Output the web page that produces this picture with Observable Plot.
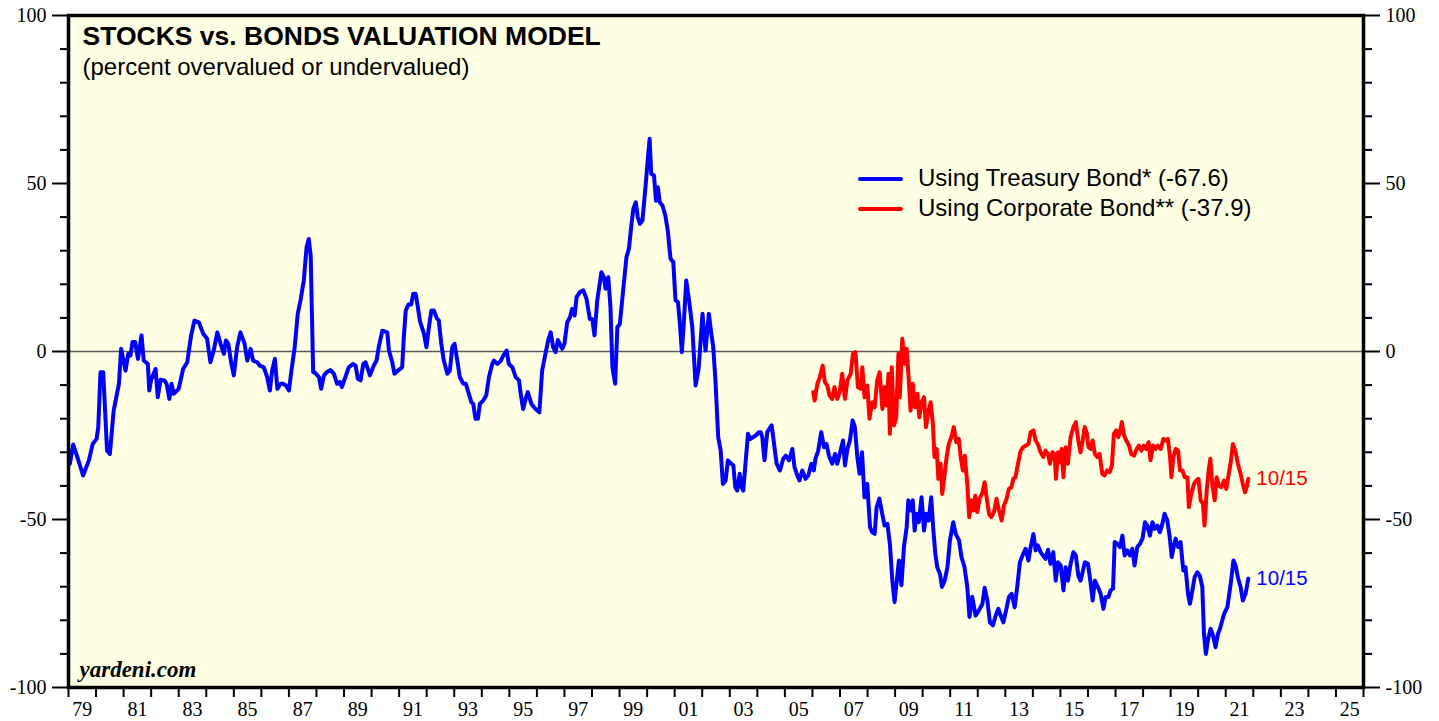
<!DOCTYPE html>
<html>
<head>
<meta charset="utf-8">
<script src="https://cdn.jsdelivr.net/npm/d3@7"></script>
<script src="https://cdn.jsdelivr.net/npm/@observablehq/plot@0.6"></script>
<style>
  html, body { margin: 0; padding: 0; background: #ffffff; }
  #wrap { position: relative; width: 1439px; height: 721px; overflow: hidden; }
  #legend { position: absolute; left: 858px; top: 163px; font-family: "Liberation Sans", Arial, sans-serif; font-size: 24px; color: #000; }
  .row { display: flex; align-items: center; height: 30px; line-height: 30px; white-space: nowrap; }
  .sw { width: 45px; height: 4px; margin-right: 15px; border-radius: 2px; position: relative; top: 1px; }
</style>
</head>
<body>
<div id="wrap"><div id="legend"></div></div>
<script>
// ---------- DATA ----------
const chartTitle = "STOCKS vs. BONDS VALUATION MODEL";
const chartSubtitle = "(percent overvalued or undervalued)";
const sourceNote = "yardeni.com";
const seriesNames = ["Using Treasury Bond* (-67.6)", "Using Corporate Bond** (-37.9)"];
const endLabel = "10/15";
const yMajorTicks = [-100, -50, 0, 50, 100];
const yMinorTicks = [-90, -80, -70, -60, -40, -30, -20, -10, 10, 20, 30, 40, 60, 70, 80, 90];
const yearTicks = d3.range(1979, 2027);            // one tick per year 1979..2026
const labelYears = d3.range(1979, 2026, 2);         // 79, 81, ... 25

// [decimal year, percent]
const treasury = [
[1979.05,-33.4],[1979.17,-27.7],[1979.32,-31.4],[1979.53,-36.9],[1979.74,-32.4],[1979.88,-27.5],
[1980.02,-26.0],[1980.08,-22.5],[1980.16,-6.2],[1980.26,-6.2],[1980.40,-29.5],[1980.50,-30.5],
[1980.64,-17.6],[1980.83,-9.6],[1980.91,0.8],[1981.07,-5.7],[1981.17,-0.7],[1981.25,-1.2],
[1981.32,2.8],[1981.42,2.8],[1981.52,-2.2],[1981.65,4.8],[1981.73,-2.7],[1981.88,-3.7],
[1981.93,-11.6],[1982.00,-8.4],[1982.16,-5.2],[1982.24,-13.6],[1982.34,-8.4],[1982.48,-8.6],
[1982.56,-9.6],[1982.66,-14.1],[1982.74,-9.6],[1982.82,-12.6],[1983.00,-11.1],[1983.16,-5.2],
[1983.31,-3.2],[1983.45,4.8],[1983.57,9.2],[1983.73,8.7],[1983.89,5.3],[1984.03,3.8],
[1984.15,-3.2],[1984.27,0.3],[1984.40,5.7],[1984.52,2.3],[1984.64,-0.7],[1984.71,3.3],
[1984.80,2.3],[1984.91,-3.7],[1985.00,-7.1],[1985.12,1.3],[1985.24,5.7],[1985.39,2.3],
[1985.49,-2.7],[1985.61,0.8],[1985.70,-2.7],[1985.85,-3.2],[1985.94,-4.2],[1986.09,-4.7],
[1986.21,-7.6],[1986.31,-11.6],[1986.39,-5.7],[1986.49,-2.2],[1986.58,-11.1],[1986.70,-9.6],
[1986.79,-9.6],[1986.88,-10.1],[1987.00,-11.6],[1987.09,-5.7],[1987.21,1.3],[1987.32,11.2],
[1987.42,15.2],[1987.54,21.1],[1987.64,31.0],[1987.72,33.5],[1987.79,28.5],[1987.88,-6.2],
[1987.93,-6.2],[1988.09,-7.6],[1988.17,-11.1],[1988.27,-7.1],[1988.37,-6.2],[1988.51,-5.5],
[1988.63,-6.6],[1988.75,-9.6],[1988.85,-9.1],[1988.92,-10.6],[1989.05,-7.6],[1989.17,-4.7],
[1989.33,-3.7],[1989.42,-4.2],[1989.50,-8.1],[1989.60,-8.6],[1989.70,-3.7],[1989.78,-3.2],
[1989.94,-7.1],[1990.08,-4.2],[1990.18,-2.7],[1990.26,1.3],[1990.39,6.2],[1990.57,5.7],
[1990.63,0.3],[1990.75,-3.2],[1990.83,-6.6],[1990.95,-5.7],[1991.11,-4.7],[1991.17,4.3],
[1991.24,12.2],[1991.34,14.0],[1991.44,14.0],[1991.51,17.2],[1991.60,17.2],[1991.68,13.2],
[1991.75,9.2],[1991.90,5.3],[1991.99,1.3],[1992.08,7.2],[1992.17,12.2],[1992.26,12.2],
[1992.36,10.0],[1992.44,9.2],[1992.53,2.3],[1992.62,-2.7],[1992.75,-6.6],[1992.84,-5.7],
[1992.93,1.3],[1993.01,2.3],[1993.11,-2.7],[1993.20,-7.6],[1993.33,-9.6],[1993.42,-9.6],
[1993.53,-12.6],[1993.62,-15.1],[1993.69,-15.6],[1993.77,-20.0],[1993.86,-20.0],[1993.93,-15.6],
[1994.05,-14.6],[1994.16,-13.1],[1994.26,-7.6],[1994.38,-3.7],[1994.44,-2.7],[1994.56,-3.7],
[1994.68,-2.9],[1994.78,-1.2],[1994.90,0.3],[1994.98,-3.7],[1995.11,-4.7],[1995.23,-7.6],
[1995.35,-8.6],[1995.43,-13.6],[1995.50,-17.1],[1995.59,-14.1],[1995.67,-12.1],[1995.80,-15.6],
[1995.95,-17.1],[1996.09,-18.1],[1996.19,-5.7],[1996.31,-0.7],[1996.41,3.3],[1996.50,5.7],
[1996.59,1.3],[1996.68,-0.2],[1996.76,3.4],[1996.92,0.8],[1997.00,2.3],[1997.10,8.7],
[1997.20,10.2],[1997.28,12.7],[1997.37,10.7],[1997.44,16.2],[1997.56,17.7],[1997.68,18.2],
[1997.80,15.7],[1997.92,9.7],[1998.01,9.7],[1998.09,4.8],[1998.19,15.2],[1998.34,23.6],
[1998.43,22.1],[1998.49,18.7],[1998.59,22.1],[1998.67,13.2],[1998.74,-4.7],[1998.84,-9.6],
[1998.92,7.2],[1999.01,8.2],[1999.13,18.2],[1999.25,28.1],[1999.34,30.6],[1999.42,37.0],
[1999.50,42.5],[1999.59,44.4],[1999.66,40.0],[1999.74,38.0],[1999.83,39.0],[1999.94,48.9],
[2000.03,57.8],[2000.09,63.3],[2000.15,52.9],[2000.25,52.4],[2000.32,44.9],[2000.39,48.9],
[2000.46,44.4],[2000.56,43.4],[2000.66,40.5],[2000.75,36.0],[2000.85,27.6],[2000.95,26.6],
[2001.03,15.2],[2001.12,14.7],[2001.19,8.2],[2001.26,-0.2],[2001.33,8.2],[2001.42,21.1],
[2001.53,14.7],[2001.64,7.2],[2001.76,-10.1],[2001.87,-5.2],[2002.01,11.2],[2002.12,0.3],
[2002.24,11.2],[2002.33,5.3],[2002.40,1.3],[2002.48,-8.6],[2002.58,-25.5],[2002.67,-29.5],
[2002.75,-39.4],[2002.85,-38.4],[2002.93,-32.4],[2003.05,-33.4],[2003.13,-33.9],[2003.20,-40.4],
[2003.27,-41.4],[2003.36,-36.4],[2003.43,-40.4],[2003.49,-41.4],[2003.56,-34.4],[2003.66,-24.5],
[2003.75,-26.0],[2003.94,-25.0],[2004.06,-24.0],[2004.12,-24.0],[2004.18,-25.5],[2004.26,-32.4],
[2004.36,-24.0],[2004.52,-22.0],[2004.60,-27.0],[2004.70,-33.4],[2004.82,-35.4],[2004.94,-31.9],
[2005.03,-31.0],[2005.15,-32.4],[2005.27,-29.0],[2005.35,-34.4],[2005.45,-36.9],[2005.53,-38.4],
[2005.63,-35.4],[2005.75,-37.9],[2005.85,-36.9],[2005.96,-33.4],[2006.05,-35.4],[2006.11,-31.9],
[2006.21,-29.5],[2006.32,-24.0],[2006.42,-28.5],[2006.51,-27.5],[2006.60,-31.0],[2006.72,-33.4],
[2006.82,-30.5],[2006.90,-33.4],[2007.02,-29.5],[2007.11,-26.5],[2007.18,-33.9],[2007.27,-29.0],
[2007.36,-26.5],[2007.46,-20.5],[2007.54,-22.5],[2007.63,-31.4],[2007.71,-36.4],[2007.80,-30.0],
[2007.89,-43.4],[2007.99,-39.4],[2008.09,-52.3],[2008.17,-53.8],[2008.26,-54.3],[2008.33,-46.3],
[2008.43,-43.8],[2008.52,-47.8],[2008.62,-51.8],[2008.72,-51.3],[2008.81,-57.2],[2008.90,-68.2],
[2008.98,-74.6],[2009.05,-69.1],[2009.14,-62.2],[2009.23,-69.6],[2009.32,-58.2],[2009.42,-52.3],
[2009.48,-44.3],[2009.56,-47.3],[2009.64,-44.3],[2009.71,-53.3],[2009.78,-48.3],[2009.86,-50.8],
[2009.96,-43.4],[2010.05,-53.3],[2010.13,-48.3],[2010.22,-50.3],[2010.31,-43.4],[2010.39,-53.3],
[2010.46,-60.2],[2010.53,-64.2],[2010.63,-66.2],[2010.70,-70.1],[2010.80,-68.2],[2010.90,-64.2],
[2010.99,-56.2],[2011.11,-50.8],[2011.20,-54.3],[2011.32,-56.2],[2011.41,-61.2],[2011.52,-64.2],
[2011.62,-70.1],[2011.70,-79.0],[2011.80,-73.0],[2011.92,-78.6],[2012.04,-77.1],[2012.17,-75.1],
[2012.25,-70.3],[2012.35,-74.1],[2012.44,-80.6],[2012.55,-81.5],[2012.65,-78.6],[2012.75,-76.6],
[2012.83,-78.6],[2012.93,-80.6],[2013.04,-76.6],[2013.13,-73.1],[2013.23,-72.1],[2013.34,-76.1],
[2013.44,-69.6],[2013.53,-62.7],[2013.65,-60.2],[2013.74,-58.7],[2013.84,-62.2],[2013.92,-58.2],
[2014.02,-54.3],[2014.10,-59.2],[2014.18,-57.7],[2014.28,-59.7],[2014.37,-60.7],[2014.46,-61.7],
[2014.55,-59.0],[2014.64,-63.2],[2014.74,-59.7],[2014.83,-68.2],[2014.91,-62.7],[2015.01,-63.7],
[2015.11,-71.1],[2015.19,-64.2],[2015.27,-68.2],[2015.37,-63.2],[2015.47,-59.7],[2015.56,-60.7],
[2015.65,-66.7],[2015.73,-68.2],[2015.82,-65.2],[2015.89,-62.7],[2016.00,-63.2],[2016.10,-69.1],
[2016.17,-74.1],[2016.25,-68.2],[2016.36,-70.1],[2016.46,-72.1],[2016.56,-76.6],[2016.64,-73.1],
[2016.74,-73.1],[2016.82,-71.1],[2016.91,-70.6],[2016.97,-56.7],[2017.07,-57.2],[2017.16,-58.2],
[2017.25,-54.8],[2017.33,-60.7],[2017.43,-59.2],[2017.52,-60.7],[2017.61,-58.7],[2017.69,-63.7],
[2017.79,-58.2],[2017.89,-57.2],[2017.98,-55.7],[2018.07,-50.8],[2018.15,-51.8],[2018.25,-54.8],
[2018.34,-50.8],[2018.42,-52.8],[2018.52,-51.8],[2018.61,-53.8],[2018.70,-51.3],[2018.78,-48.3],
[2018.88,-50.3],[2018.96,-54.8],[2019.04,-61.2],[2019.12,-57.7],[2019.18,-55.7],[2019.27,-58.2],
[2019.36,-56.7],[2019.46,-65.2],[2019.54,-64.2],[2019.63,-72.1],[2019.70,-75.1],[2019.79,-71.1],
[2019.87,-67.2],[2019.97,-65.7],[2020.06,-66.7],[2020.15,-70.1],[2020.21,-84.0],[2020.28,-90.0],
[2020.35,-86.0],[2020.45,-82.5],[2020.54,-84.5],[2020.63,-88.0],[2020.72,-84.0],[2020.79,-82.5],
[2020.94,-78.1],[2021.06,-76.1],[2021.18,-69.1],[2021.28,-62.2],[2021.36,-63.7],[2021.44,-67.2],
[2021.54,-70.1],[2021.62,-74.1],[2021.72,-72.1],[2021.82,-67.6]
];

const corporate = [
[2006.03,-12.1],[2006.08,-14.6],[2006.18,-9.6],[2006.27,-7.6],[2006.37,-4.2],[2006.45,-9.1],
[2006.54,-10.1],[2006.62,-13.1],[2006.72,-14.1],[2006.80,-10.6],[2006.90,-14.1],[2006.99,-12.1],
[2007.08,-6.6],[2007.18,-14.1],[2007.27,-8.6],[2007.39,-6.6],[2007.47,-0.7],[2007.56,-0.2],
[2007.65,-10.6],[2007.75,-11.1],[2007.81,-4.7],[2007.89,-13.6],[2007.99,-10.1],[2008.07,-20.0],
[2008.17,-15.1],[2008.26,-16.6],[2008.35,-8.6],[2008.44,-6.2],[2008.54,-17.1],[2008.62,-10.6],
[2008.69,-16.1],[2008.76,-6.6],[2008.81,-24.5],[2008.88,-4.7],[2008.96,-22.0],[2009.04,-19.6],
[2009.12,-0.7],[2009.17,-13.6],[2009.26,3.8],[2009.35,-3.7],[2009.42,0.8],[2009.49,-7.6],
[2009.56,-17.6],[2009.64,-9.6],[2009.72,-16.6],[2009.81,-12.6],[2009.88,-19.6],[2009.96,-15.1],
[2010.05,-13.6],[2010.12,-22.5],[2010.21,-17.6],[2010.29,-15.1],[2010.37,-21.5],[2010.43,-31.4],
[2010.51,-29.0],[2010.57,-37.9],[2010.65,-33.4],[2010.71,-42.4],[2010.80,-36.4],[2010.87,-31.4],
[2010.95,-27.5],[2011.04,-25.5],[2011.13,-22.5],[2011.22,-27.0],[2011.31,-26.0],[2011.38,-31.4],
[2011.46,-35.4],[2011.53,-31.0],[2011.62,-39.4],[2011.69,-49.3],[2011.77,-44.3],[2011.84,-47.3],
[2011.91,-42.9],[2011.98,-47.8],[2012.07,-43.8],[2012.17,-41.9],[2012.25,-38.9],[2012.32,-43.4],
[2012.41,-48.3],[2012.49,-49.3],[2012.59,-47.8],[2012.68,-43.8],[2012.77,-47.3],[2012.87,-50.3],
[2012.95,-45.8],[2013.05,-43.8],[2013.13,-40.9],[2013.22,-40.4],[2013.29,-37.9],[2013.37,-37.4],
[2013.46,-33.4],[2013.56,-29.5],[2013.65,-28.5],[2013.75,-28.0],[2013.84,-27.5],[2013.92,-24.0],
[2014.02,-23.5],[2014.10,-26.5],[2014.18,-27.5],[2014.28,-30.0],[2014.38,-31.4],[2014.46,-29.5],
[2014.55,-30.5],[2014.62,-33.4],[2014.71,-30.0],[2014.79,-30.5],[2014.84,-37.9],[2014.91,-30.0],
[2014.98,-33.0],[2015.04,-29.0],[2015.11,-37.4],[2015.19,-28.5],[2015.27,-33.4],[2015.37,-25.5],
[2015.47,-22.5],[2015.56,-21.0],[2015.65,-26.5],[2015.73,-30.0],[2015.81,-26.5],[2015.88,-22.5],
[2015.95,-24.0],[2016.02,-28.5],[2016.10,-29.0],[2016.17,-26.5],[2016.25,-30.5],[2016.34,-31.4],
[2016.42,-30.5],[2016.52,-36.4],[2016.60,-36.9],[2016.70,-35.4],[2016.79,-35.9],[2016.87,-33.9],
[2016.94,-24.5],[2017.03,-23.5],[2017.10,-25.5],[2017.16,-24.0],[2017.23,-21.0],[2017.31,-25.0],
[2017.39,-26.5],[2017.49,-28.0],[2017.57,-30.5],[2017.67,-31.0],[2017.77,-29.0],[2017.85,-28.0],
[2017.94,-29.5],[2018.03,-28.0],[2018.12,-29.0],[2018.20,-27.0],[2018.27,-32.4],[2018.36,-28.0],
[2018.46,-29.0],[2018.54,-28.0],[2018.64,-29.0],[2018.74,-26.0],[2018.82,-26.5],[2018.90,-26.0],
[2018.98,-31.4],[2019.03,-37.4],[2019.10,-31.4],[2019.18,-29.0],[2019.27,-29.5],[2019.34,-35.4],
[2019.43,-35.4],[2019.51,-37.4],[2019.61,-37.4],[2019.66,-46.3],[2019.75,-42.4],[2019.85,-39.4],
[2019.93,-38.4],[2020.01,-37.9],[2020.09,-44.3],[2020.17,-45.3],[2020.23,-51.8],[2020.31,-41.4],
[2020.38,-35.4],[2020.44,-31.9],[2020.51,-39.4],[2020.60,-44.3],[2020.67,-37.4],[2020.75,-39.9],
[2020.84,-40.4],[2020.94,-38.4],[2021.02,-40.9],[2021.09,-37.4],[2021.18,-33.0],[2021.26,-27.5],
[2021.36,-30.0],[2021.44,-33.4],[2021.54,-36.4],[2021.62,-39.4],[2021.70,-41.9],[2021.76,-40.4],
[2021.82,-37.9]
];

// ---------- STYLE ----------
const BLUE = "#0000ff", RED = "#ff0000", BG = "#ffffe4";
const serif = "'Liberation Serif', 'Times New Roman', serif";
const sans = "'Liberation Sans', Arial, sans-serif";
const yy = d => String(d % 100).padStart(2, "0");

const chart = Plot.plot({
  width: 1439,
  height: 721,
  marginLeft: 68,
  marginRight: 76,
  marginTop: 15,
  marginBottom: 34,
  style: {fontFamily: serif, fontSize: "20px", color: "#000", background: "#ffffff"},
  x: {domain: [1979, 2026], axis: null},
  y: {domain: [-100, 100], axis: null},
  marks: [
    Plot.frame({fill: BG, stroke: null}),
    Plot.ruleY([0], {stroke: "#5a5a5a", strokeWidth: 1.5}),
    // y axes left and right
    Plot.axisY({anchor: "left", ticks: yMajorTicks, tickSize: 16, tickPadding: 6, strokeWidth: 2, fontSize: 20, fontFamily: serif, tickFormat: d => String(d)}),
    Plot.axisY({anchor: "left", ticks: yMinorTicks, tickSize: 8, strokeWidth: 2, tickFormat: () => ""}),
    Plot.axisY({anchor: "right", ticks: yMajorTicks, tickSize: 16, tickPadding: 6, strokeWidth: 2, fontSize: 20, fontFamily: serif, tickFormat: d => String(d)}),
    Plot.axisY({anchor: "right", ticks: yMinorTicks, tickSize: 8, strokeWidth: 2, tickFormat: () => ""}),
    // x axis: yearly ticks, labels centred in odd years
    Plot.axisX({anchor: "bottom", ticks: yearTicks, tickSize: 10, strokeWidth: 2, tickFormat: () => ""}),
    Plot.axisX({anchor: "bottom", ticks: labelYears.map(y => y + 0.5), tickSize: 0, tickPadding: 14, fontSize: 20, fontFamily: serif, tickFormat: d => yy(Math.floor(d))}),
    // series
    Plot.line(treasury, {x: d => d[0], y: d => d[1], stroke: BLUE, strokeWidth: 4, strokeLinejoin: "round"}),
    Plot.line(corporate, {x: d => d[0], y: d => d[1], stroke: RED, strokeWidth: 4, strokeLinejoin: "round"}),
    // end labels
    Plot.text([treasury[treasury.length - 1]], {x: d => d[0], y: d => d[1], text: () => endLabel, dx: 8, textAnchor: "start", fill: BLUE, fontSize: 20.5, fontFamily: sans}),
    Plot.text([corporate[corporate.length - 1]], {x: d => d[0], y: d => d[1], text: () => endLabel, dx: 8, textAnchor: "start", fill: RED, fontSize: 20.5, fontFamily: sans}),
    // titles & source inside the frame
    Plot.text([chartTitle], {frameAnchor: "top-left", text: d => d, dx: 14, dy: 11, lineAnchor: "top", textAnchor: "start", fontWeight: "bold", fontSize: 26.5, fontFamily: sans, fill: "#000"}),
    Plot.text([chartSubtitle], {frameAnchor: "top-left", text: d => d, dx: 14, dy: 42, lineAnchor: "top", textAnchor: "start", fontSize: 24, fontFamily: sans, fill: "#000"}),
    Plot.text([sourceNote], {frameAnchor: "top-left", text: d => d, dx: 11, dy: 645, lineAnchor: "top", textAnchor: "start", fontWeight: "bold", fontStyle: "italic", fontSize: 23, fontFamily: serif, fill: "#000"}),
    Plot.frame({stroke: "#000", strokeWidth: 3.5})
  ]
});

const wrap = document.getElementById("wrap");
wrap.insertBefore(chart, wrap.firstChild);

// legend (inside the plot, upper right)
const legend = document.getElementById("legend");
[[seriesNames[0], BLUE], [seriesNames[1], RED]].forEach(([name, color]) => {
  const row = document.createElement("div");
  row.className = "row";
  const sw = document.createElement("div");
  sw.className = "sw";
  sw.style.background = color;
  const t = document.createElement("span");
  t.textContent = name;
  row.appendChild(sw);
  row.appendChild(t);
  legend.appendChild(row);
});
</script>
</body>
</html>
